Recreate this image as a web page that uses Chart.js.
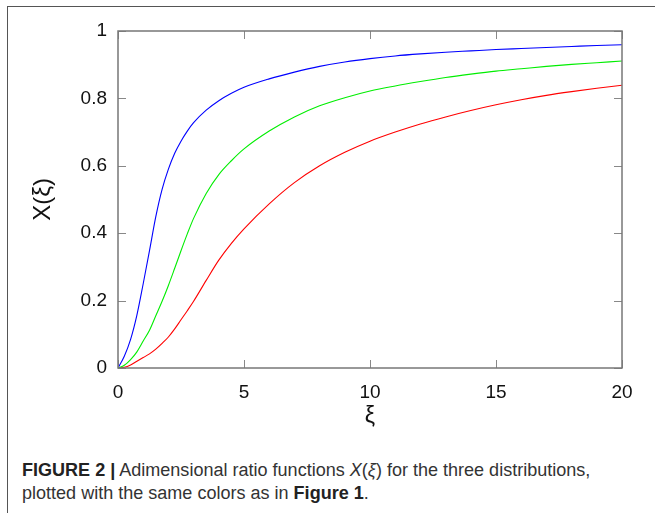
<!DOCTYPE html>
<html>
<head>
<meta charset="utf-8">
<script src="https://cdn.jsdelivr.net/npm/chart.js@4.4.0/dist/chart.umd.min.js"></script>
<style>
  html, body { margin: 0; padding: 0; background: #fff; width: 655px; height: 513px; overflow: hidden; }
  #wrap { position: relative; width: 655px; height: 513px; }
  #frame { position: absolute; left: 7px; top: 6px; width: 660px; height: 520px; border-left: 1px solid #555; border-top: 1px solid #555; }
  #cv { position: absolute; left: 0; top: 0; }
  #cap { position: absolute; left: 22px; top: 459px; font-family: "Liberation Sans", Arial, sans-serif; font-size: 15px; line-height: 23px; color: #333; white-space: nowrap; }
  #cap b { color: #222; }
</style>
</head>
<body>
<div id="wrap">
  <div id="frame"></div>
  <canvas id="cv" width="655" height="430"></canvas>
  <div id="cap"><div id="l1"><b>FIGURE 2 |</b> Adimensional ratio functions <i>X</i>(<i>ξ</i>) for the three distributions,</div><div>plotted with the same colors as in <b>Figure 1</b>.</div></div>
</div>
<script>
const xi    = [0, 0.25, 0.5, 0.75, 1, 1.25, 1.5, 1.75, 2, 2.25, 2.5, 2.75, 3, 3.5, 4, 4.5, 5, 6, 7, 8, 9, 10, 11, 12, 13, 14, 15, 16, 17, 18, 19, 20];
const blue  = [0, 0.035, 0.085, 0.157, 0.25, 0.348, 0.449, 0.53, 0.59, 0.637, 0.673, 0.703, 0.728, 0.765, 0.793, 0.815, 0.833, 0.858, 0.878, 0.895, 0.908, 0.918, 0.926, 0.932, 0.937, 0.941, 0.945, 0.948, 0.951, 0.954, 0.957, 0.959];
const green = [0, 0.008, 0.025, 0.048, 0.08, 0.112, 0.155, 0.198, 0.245, 0.296, 0.348, 0.398, 0.444, 0.518, 0.574, 0.615, 0.65, 0.703, 0.745, 0.778, 0.802, 0.822, 0.837, 0.85, 0.862, 0.872, 0.881, 0.888, 0.895, 0.901, 0.906, 0.911];
const red   = [0, 0.002, 0.009, 0.02, 0.031, 0.042, 0.056, 0.073, 0.092, 0.116, 0.143, 0.17, 0.198, 0.26, 0.32, 0.37, 0.413, 0.487, 0.55, 0.60, 0.64, 0.673, 0.70, 0.724, 0.745, 0.764, 0.781, 0.796, 0.809, 0.82, 0.83, 0.839];
const xTicks = [0, 5, 10, 15, 20];
const yTicks = [0, 0.2, 0.4, 0.6, 0.8, 1];

const pts = arr => xi.map((x, i) => ({ x: x, y: arr[i] }));
const ds = (arr, c) => ({ data: pts(arr), borderColor: c, borderWidth: 1.1, pointRadius: 0, fill: false, cubicInterpolationMode: 'monotone' });

const frameTicks = {
  id: 'frameTicks',
  afterDraw(chart) {
    const { ctx, chartArea: a, scales } = chart;
    const L = 8;
    ctx.save();
    ctx.strokeStyle = '#888';
    ctx.lineWidth = 1;
    ctx.beginPath();
    xTicks.forEach(v => {
      const p = Math.round(scales.x.getPixelForValue(v)) + 0.5;
      ctx.moveTo(p, a.bottom); ctx.lineTo(p, a.bottom - L);
      ctx.moveTo(p, a.top); ctx.lineTo(p, a.top + L);
    });
    yTicks.forEach(v => {
      const p = Math.round(scales.y.getPixelForValue(v)) + 0.5;
      ctx.moveTo(a.left, p); ctx.lineTo(a.left + L, p);
      ctx.moveTo(a.right, p); ctx.lineTo(a.right - L, p);
    });
    ctx.stroke();
    ctx.lineWidth = 1.5;
    ctx.strokeStyle = '#777';
    ctx.strokeRect(a.left, a.top, a.right - a.left, a.bottom - a.top);
    ctx.restore();
  }
};

new Chart(document.getElementById('cv'), {
  type: 'line',
  data: { datasets: [ds(blue, '#0000ff'), ds(green, '#00ee00'), ds(red, '#ff0000')] },
  options: {
    responsive: false,
    animation: false,
    layout: { padding: { left: 0, right: 33, top: 31, bottom: 0 } },
    plugins: { legend: { display: false }, tooltip: { enabled: false } },
    scales: {
      x: {
        type: 'linear', min: 0, max: 20,
        afterBuildTicks: s => { s.ticks = xTicks.map(v => ({ value: v })); },
        afterFit: s => { s.height = 62; },
        grid: { display: false, drawTicks: false, tickLength: 0 },
        border: { display: false },
        ticks: { color: '#111', font: { family: 'Liberation Sans', size: 19 }, padding: 13, maxRotation: 0, callback: v => String(v) },
        title: { display: true, text: 'ξ', color: '#111', font: { family: 'Liberation Sans', size: 23 }, padding: { top: 0, bottom: 0 } }
      },
      y: {
        type: 'linear', min: 0, max: 1,
        afterBuildTicks: s => { s.ticks = yTicks.map(v => ({ value: v })); },
        afterFit: s => { s.width = 118; },
        grid: { display: false, drawTicks: false, tickLength: 0 },
        border: { display: false },
        ticks: { color: '#111', font: { family: 'Liberation Sans', size: 19 }, padding: 11, callback: v => String(v) },
        title: { display: true, text: 'X(ξ)', color: '#111', font: { family: 'Liberation Sans', size: 24 }, padding: { top: 29, bottom: 0 } }
      }
    }
  },
  plugins: [frameTicks]
});

const l1 = document.getElementById('l1');
const w = l1.getBoundingClientRect().width;
const target = 569;
const cap = document.getElementById('cap');
cap.style.fontSize = (15 * target / w).toFixed(2) + 'px';
</script>
</body>
</html>
